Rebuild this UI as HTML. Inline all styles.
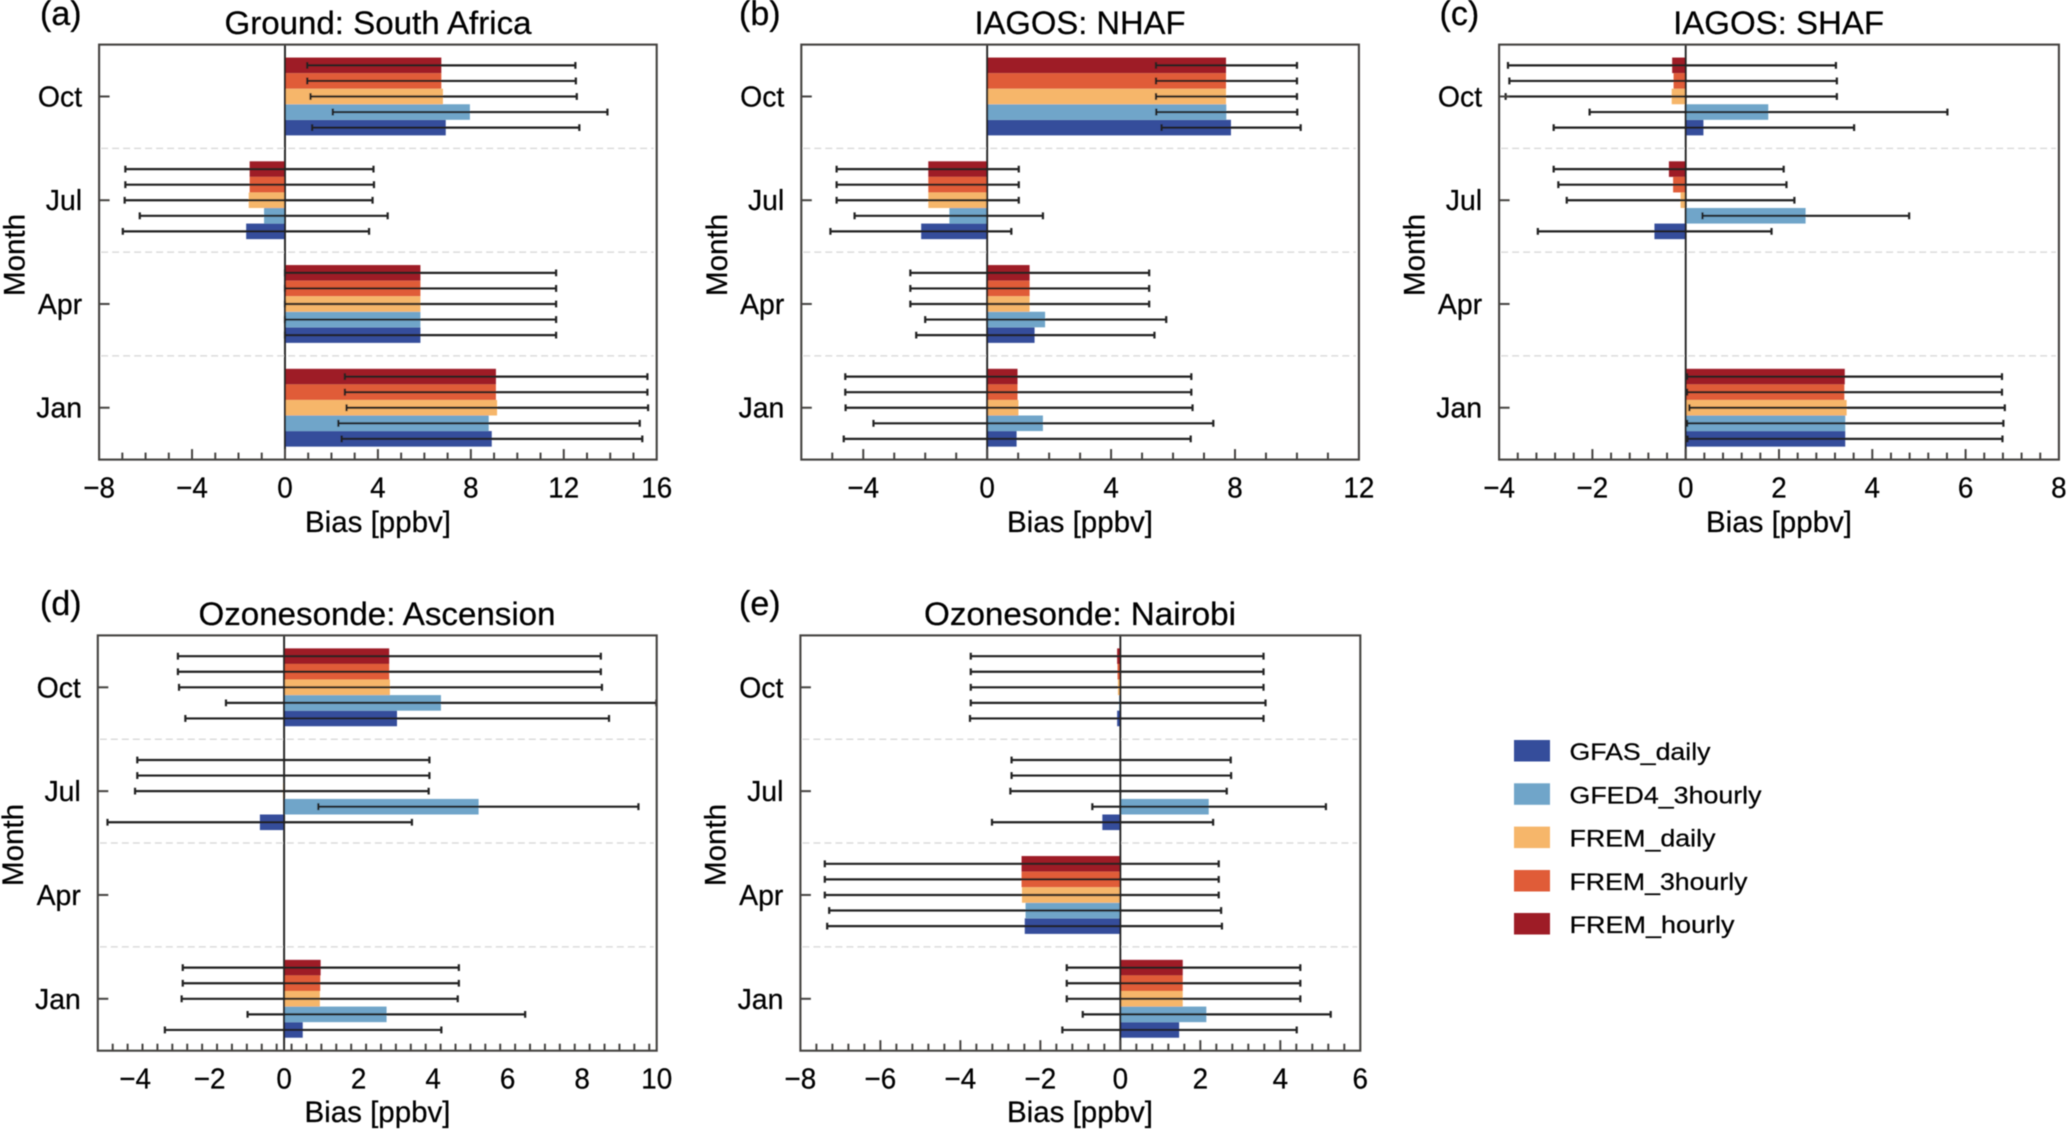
<!DOCTYPE html>
<html lang="en">
<head>
<meta charset="utf-8">
<title>Bias by month for five observation sets</title>
<style>
html,body{margin:0;padding:0;background:#fff;width:2067px;height:1130px;overflow:hidden}
svg{display:block}
text{font-family:"Liberation Sans",Arial,sans-serif;fill:#000;stroke:#000;stroke-width:.25}
.tick-text{font-size:29px}
.title{font-size:32px;text-anchor:middle}
.axis-title{font-size:30px;text-anchor:middle}
.panel-tag{font-size:34px}
.legend-text{font-size:24px}
.frame{fill:none;stroke:#454341;stroke-width:2.1}
.tick{stroke:#454341;stroke-width:2}
.sep{stroke:#dcdcdc;stroke-width:1.5;stroke-dasharray:7 4}
.zero{stroke:#222;stroke-width:1.9}
.err{stroke:#222;stroke-width:2.2;fill:none}
.s0{fill:#354d9b}.s1{fill:#6fa5c9}.s2{fill:#f6b66b}.s3{fill:#e05c38}.s4{fill:#9e1b26}
</style>
</head>
<body>
<svg id="fig" xmlns="http://www.w3.org/2000/svg" width="2067" height="1130" viewBox="0 0 2067 1130">
<defs><filter id="soft" x="0" y="0" width="100%" height="100%"><feGaussianBlur stdDeviation="0.6"/></filter></defs>
<rect width="2067" height="1130" fill="#fff"/>
<g filter="url(#soft)">
  <g id="panel-a">
    <text class="panel-tag" x="40" y="25">(a)</text>
    <text class="title" x="378" y="34" textLength="307" lengthAdjust="spacingAndGlyphs">Ground: South Africa</text>
    <text class="axis-title" x="378" y="532" textLength="146" lengthAdjust="spacingAndGlyphs">Bias [ppbv]</text>
    <text class="axis-title" transform="translate(24.5 255) rotate(-90)" textLength="82" lengthAdjust="spacingAndGlyphs">Month</text>
  </g>
  <g id="panel-b">
    <text class="panel-tag" x="739" y="25">(b)</text>
    <text class="title" x="1080" y="34" textLength="211" lengthAdjust="spacingAndGlyphs">IAGOS: NHAF</text>
    <text class="axis-title" x="1080" y="532" textLength="146" lengthAdjust="spacingAndGlyphs">Bias [ppbv]</text>
    <text class="axis-title" transform="translate(726.8 255) rotate(-90)" textLength="82" lengthAdjust="spacingAndGlyphs">Month</text>
  </g>
  <g id="panel-c">
    <text class="panel-tag" x="1439.5" y="25">(c)</text>
    <text class="title" x="1778.6" y="34" textLength="211" lengthAdjust="spacingAndGlyphs">IAGOS: SHAF</text>
    <text class="axis-title" x="1779" y="532" textLength="146" lengthAdjust="spacingAndGlyphs">Bias [ppbv]</text>
    <text class="axis-title" transform="translate(1424.7 255) rotate(-90)" textLength="82" lengthAdjust="spacingAndGlyphs">Month</text>
  </g>
  <g id="panel-d">
    <text class="panel-tag" x="40" y="615">(d)</text>
    <text class="title" x="377" y="625" textLength="357" lengthAdjust="spacingAndGlyphs">Ozonesonde: Ascension</text>
    <text class="axis-title" x="377.5" y="1122" textLength="146" lengthAdjust="spacingAndGlyphs">Bias [ppbv]</text>
    <text class="axis-title" transform="translate(23.2 845) rotate(-90)" textLength="82" lengthAdjust="spacingAndGlyphs">Month</text>
  </g>
  <g id="panel-e">
    <text class="panel-tag" x="739" y="615">(e)</text>
    <text class="title" x="1080" y="625" textLength="312" lengthAdjust="spacingAndGlyphs">Ozonesonde: Nairobi</text>
    <text class="axis-title" x="1080" y="1122" textLength="146" lengthAdjust="spacingAndGlyphs">Bias [ppbv]</text>
    <text class="axis-title" transform="translate(725.4 845) rotate(-90)" textLength="82" lengthAdjust="spacingAndGlyphs">Month</text>
  </g>
  <g id="legend">
    <g>
      <rect class="s0" x="1514" y="740" width="36" height="21.5"/>
      <text class="legend-text" x="1569.5" y="760" textLength="141" lengthAdjust="spacingAndGlyphs">GFAS_daily</text>
    </g>
    <g>
      <rect class="s1" x="1514" y="783.3" width="36" height="21.5"/>
      <text class="legend-text" x="1569.5" y="803.3" textLength="192" lengthAdjust="spacingAndGlyphs">GFED4_3hourly</text>
    </g>
    <g>
      <rect class="s2" x="1514" y="826.6" width="36" height="21.5"/>
      <text class="legend-text" x="1569.5" y="846.7" textLength="146" lengthAdjust="spacingAndGlyphs">FREM_daily</text>
    </g>
    <g>
      <rect class="s3" x="1514" y="870" width="36" height="21.5"/>
      <text class="legend-text" x="1569.5" y="890" textLength="178" lengthAdjust="spacingAndGlyphs">FREM_3hourly</text>
    </g>
    <g>
      <rect class="s4" x="1514" y="913" width="36" height="21.5"/>
      <text class="legend-text" x="1569.5" y="933" textLength="165" lengthAdjust="spacingAndGlyphs">FREM_hourly</text>
    </g>
  </g>
</g>
</svg>
<script>
// Categories (bottom to top) and series (bottom to top within a month)
const months = ['Jan', 'Apr', 'Jul', 'Oct'];
const seriesKeys = ['gfas-daily', 'gfed4-3hourly', 'frem-daily', 'frem-3hourly', 'frem-hourly'];

// Panel (a) Ground: South Africa
const aBias = [[8.9, 8.77, 9.13, 9.08, 9.08], [5.83, 5.83, 5.83, 5.83, 5.83], [-1.67, -0.9, -1.56, -1.52, -1.52], [6.92, 7.96, 6.8, 6.73, 6.73]];
const aLow = [[2.44, 2.3, 2.65, 2.58, 2.58], [0, 0, 0, 0, 0], [-6.98, -6.25, -6.9, -6.87, -6.87], [1.17, 2.06, 1.1, 0.96, 0.96]];
const aHigh = [[15.38, 15.27, 15.63, 15.6, 15.6], [11.67, 11.67, 11.67, 11.67, 11.67], [3.62, 4.42, 3.77, 3.83, 3.81], [12.67, 13.88, 12.56, 12.52, 12.5]];
const aTicks = [-8, -4, 0, 4, 8, 12, 16];

// Panel (b) IAGOS: NHAF
const bBias = [[0.95, 1.8, 1.01, 0.98, 0.98], [1.53, 1.87, 1.37, 1.37, 1.37], [-2.13, -1.22, -1.9, -1.9, -1.9], [7.87, 7.72, 7.71, 7.71, 7.71]];
const bLow = [[-4.63, -3.67, -4.57, -4.58, -4.58], [-2.29, -2, -2.48, -2.48, -2.48], [-5.06, -4.28, -4.86, -4.86, -4.86], [5.63, 5.46, 5.45, 5.45, 5.45]];
const bHigh = [[6.57, 7.3, 6.63, 6.59, 6.59], [5.4, 5.78, 5.23, 5.23, 5.23], [0.78, 1.8, 1.02, 1.02, 1.02], [10.12, 10.01, 10, 10, 10]];
const bTicks = [-4, 0, 4, 8, 12];

// Panel (c) IAGOS: SHAF (no April data)
const cBias = [[3.42, 3.42, 3.45, 3.4, 3.41], null, [-0.67, 2.57, -0.11, -0.27, -0.36], [0.38, 1.77, -0.3, -0.26, -0.29]];
const cLow = [[0.04, 0.03, 0.08, 0.03, 0.03], null, [-3.17, 0.36, -2.55, -2.73, -2.83], [-2.83, -2.06, -3.86, -3.78, -3.81]];
const cHigh = [[6.79, 6.81, 6.84, 6.78, 6.78], null, [1.84, 4.79, 2.33, 2.16, 2.1], [3.61, 5.61, 3.24, 3.24, 3.22]];
const cTicks = [-4, -2, 0, 2, 4, 6, 8];

// Panel (d) Ozonesonde: Ascension (no April data)
const dBias = [[0.5, 2.75, 0.96, 0.97, 0.98], null, [-0.65, 5.22, -0.03, 0, 0], [3.03, 4.21, 2.84, 2.82, 2.82]];
const dLow = [[-3.2, -0.98, -2.75, -2.72, -2.72], null, [-4.74, 0.92, -4, -3.94, -3.94], [-2.65, -1.56, -2.82, -2.85, -2.85]];
const dHigh = [[4.22, 6.47, 4.66, 4.69, 4.69], null, [3.43, 9.51, 3.88, 3.9, 3.9], [8.72, 9.99, 8.53, 8.5, 8.5]];
const dTicks = [-4, -2, 0, 2, 4, 6, 8, 10];

// Panel (e) Ozonesonde: Nairobi
const eBias = [[1.47, 2.15, 1.56, 1.56, 1.56], [-2.39, -2.37, -2.46, -2.47, -2.47], [-0.45, 2.21, -0.02, 0, 0], [-0.08, -0.03, -0.06, -0.07, -0.08]];
const eLow = [[-1.45, -0.94, -1.34, -1.34, -1.34], [-7.33, -7.28, -7.39, -7.39, -7.39], [-3.21, -0.7, -2.75, -2.72, -2.72], [-3.76, -3.74, -3.74, -3.74, -3.74]];
const eHigh = [[4.41, 5.26, 4.5, 4.5, 4.5], [2.54, 2.52, 2.46, 2.46, 2.46], [2.32, 5.14, 2.66, 2.77, 2.76], [3.58, 3.63, 3.58, 3.58, 3.58]];
const eTicks = [-8, -6, -4, -2, 0, 2, 4, 6];

const SVGNS = 'http://www.w3.org/2000/svg';

function mk(parent, tag, attrs) {
  const el = document.createElementNS(SVGNS, tag);
  for (const k in attrs) el.setAttribute(k, attrs[k]);
  parent.appendChild(el);
  return el;
}

function fmt(v) {
  return v < 0 ? '\u2212' + Math.abs(v) : String(v);
}

function drawPanel(id, box, domain, minorStep, ticks, bias, low, high) {
  const root = document.getElementById(id);
  const xScale = v => box.left + (v - domain[0]) / (domain[1] - domain[0]) * (box.right - box.left);
  const band = (box.bottom - box.top) / months.length;
  const yScale = i => box.bottom - (i + 0.5) * band;
  const barH = band * 0.15;
  const x0 = xScale(0);

  // month separators
  for (let i = 1; i < months.length; i++) {
    const sep = mk(root, 'line', { class: 'sep', x1: box.left + 2, x2: box.right - 3, y1: box.bottom - i * band, y2: box.bottom - i * band });
    
    
  }

  // bars
  months.forEach((m, i) => {
    if (!bias[i]) return;
    bias[i].forEach((v, s) => {
      const cy = yScale(i) + (2 - s) * barH;
      const bar = mk(root, 'rect', {
        class: 's' + s,
        x: Math.min(xScale(v), x0),
        y: cy - barH / 2,
        width: Math.abs(xScale(v) - x0),
        height: barH
      });
      
      
    });
  });

  // zero line
  const zero = mk(root, 'line', { class: 'zero', x1: x0, x2: x0, y1: box.top, y2: box.bottom });
  
  

  // error bars
  months.forEach((m, i) => {
    if (!low[i]) return;
    low[i].forEach((lo, s) => {
      const cy = yScale(i) + (2 - s) * barH;
      const a = xScale(lo);
      const b = xScale(high[i][s]);
      const err = mk(root, 'path', {
        class: 'err',
        d: 'M' + a + ' ' + (cy - 3.4) + 'V' + (cy + 3.4) + 'M' + a + ' ' + cy + 'H' + b + 'M' + b + ' ' + (cy - 3.4) + 'V' + (cy + 3.4)
      });
      
      
    });
  });

  // x ticks
  const nMinor = Math.round((domain[1] - domain[0]) / minorStep);
  for (let k = 1; k < nMinor; k++) {
    const v = domain[0] + k * minorStep;
    const isMajor = ticks.some(t => Math.abs(t - v) < 1e-6);
    const minor = mk(root, 'line', { class: 'tick', x1: xScale(v), x2: xScale(v), y1: box.bottom, y2: box.bottom - (isMajor ? 10.5 : 7) });
    
    
  }

  // x tick labels
  ticks.forEach(t => {
    const label = mk(root, 'text', { class: 'tick-text', transform: 'translate(' + xScale(t) + ' ' + (box.bottom + 38) + ') scale(.96 1)', 'text-anchor': 'middle' });
    
    
    label.textContent = fmt(t);
  });

  // y ticks and labels
  months.forEach((m, i) => {
    const tick = mk(root, 'line', { class: 'tick', x1: box.left, x2: box.left + 10.5, y1: yScale(i), y2: yScale(i) });
    
    
    const label = mk(root, 'text', { class: 'tick-text', transform: 'translate(' + (box.left - 17) + ' ' + (yScale(i) + 10) + ') scale(.98 1)', 'text-anchor': 'end' });
    
    
    label.textContent = m;
  });

  // frame
  const frame = mk(root, 'rect', { class: 'frame', x: box.left, y: box.top, width: box.right - box.left, height: box.bottom - box.top });
  
  
}

drawPanel('panel-a', { left: 99.1, right: 656.7, top: 44.6, bottom: 459.6 }, [-8, 16], 1, aTicks, aBias, aLow, aHigh);
drawPanel('panel-b', { left: 801.3, right: 1358.9, top: 44.6, bottom: 459.6 }, [-6, 12], 1, bTicks, bBias, bLow, bHigh);
drawPanel('panel-c', { left: 1499.1, right: 2058.9, top: 44.6, bottom: 459.6 }, [-4, 8], 0.4, cTicks, cBias, cLow, cHigh);
drawPanel('panel-d', { left: 97.8, right: 656.7, top: 635.4, bottom: 1050.7 }, [-5, 10], 0.4, dTicks, dBias, dLow, dHigh);
drawPanel('panel-e', { left: 800.4, right: 1360.3, top: 635.4, bottom: 1050.7 }, [-8, 6], 0.4, eTicks, eBias, eLow, eHigh);
</script>
</body>
</html>
